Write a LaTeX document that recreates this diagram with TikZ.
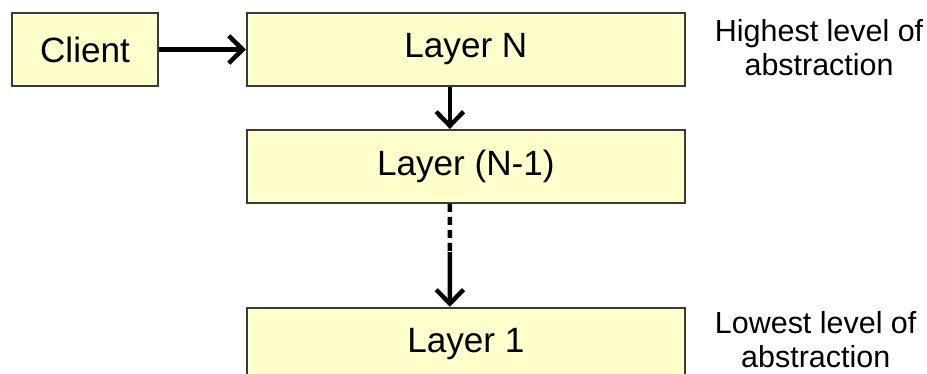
\documentclass[tikz,border=0pt]{standalone}
\usepackage{fontspec}
\setmainfont{Liberation Sans}
\usetikzlibrary{arrows.meta, positioning, calc}
\definecolor{layeryellow}{HTML}{FFFFCC}
\definecolor{layerborder}{HTML}{3A3A3A}

\begin{document}
\begin{tikzpicture}[layer_box/.style={rectangle, draw=layerborder, line width=1.6pt, fill=layeryellow, align=center, minimum height=2.19cm, minimum width=13.14cm, font=\fontsize{30}{34}\selectfont},
                    client_box/.style={layer_box, minimum width=4.38cm},
                    side_text/.style={align=center, font=\fontsize{26}{29}\selectfont},
                    flow/.style={line width=3.8pt, -{Straight Barb[length=0.42cm, width=0.82cm, line width=3.8pt]}},
                    ]

    \useasboundingbox (0,0) rectangle (27.81,-11.19);

    % Client and layers
    \node[client_box] (client) at (2.55,-1.485) {Client};
    \node[layer_box, right=2.61cm of client] (layerN) {Layer N};
    \node[layer_box, below=1.26cm of layerN] (layerN1) {Layer (N-1)};
    \node[layer_box, below=3.09cm of layerN1] (layer1) {Layer 1};

    % Levels of abstraction
    \node[side_text, right=0.75cm of layerN, yshift=0.06cm] (highest) {Highest level of\\abstraction};
    \node[side_text, right=0.75cm of layer1, yshift=0.14cm] (lowest) {Lowest level of\\abstraction};

    % Calls down the stack
    \coordinate (dash_end) at ($(layerN1.south)!0.47!(layer1.north)$);
    \draw[flow] (client) -- (layerN);
    \draw[flow] ([xshift=-0.48cm]layerN.south) -- ([xshift=-0.48cm]layerN1.north);
    \draw[line width=3.8pt, dash pattern=on 0.24cm off 0.15cm] ([xshift=-0.48cm]layerN1.south) -- ([xshift=-0.48cm]dash_end);
    \draw[flow] ([xshift=-0.48cm]dash_end) -- ([xshift=-0.48cm]layer1.north);

\end{tikzpicture}
\end{document}
